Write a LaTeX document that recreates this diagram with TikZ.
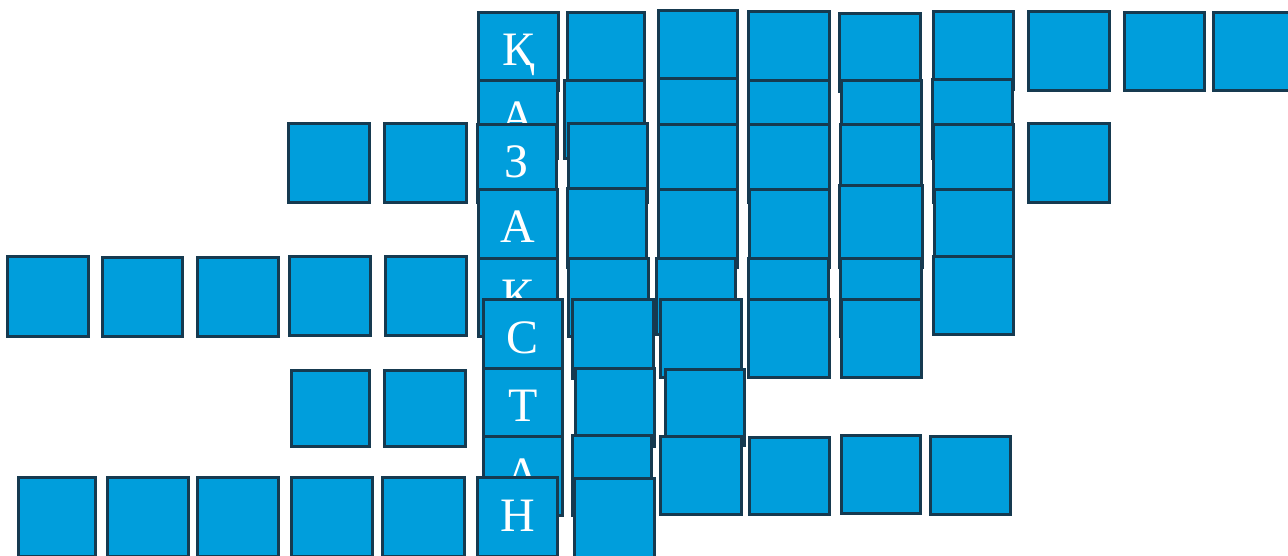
\documentclass[tikz,border=0pt]{standalone}
\usepackage{fontspec}
\setmainfont{Liberation Serif}
\definecolor{fillcol}{RGB}{0,158,220}
\definecolor{bordercol}{RGB}{22,58,80}
\tikzset{
  cellbox/.style={draw=bordercol, fill=fillcol, line width=2.6pt, inner sep=0pt,
    rectangle, text=white, font=\fontsize{48}{48}\selectfont,
    text height=28pt, text depth=0pt}
}
\newcommand{\sqcell}[6]{\node[cellbox, minimum width={(#4-#2-2.6)*1pt}, minimum height={(#5-#3-2.6)*1pt}] (#1) at ({(#2+#4)/2},{(#3+#5)/2}) {#6};}
\begin{document}
\begin{tikzpicture}[x=1pt,y=-1pt]
\useasboundingbox (0,0) rectangle (1288,555);
% row 1
\sqcell{r1c1}{477}{11}{560}{92}{Қ}
\sqcell{r1c2}{566}{11}{646}{92}{}
\sqcell{r1c3}{657}{9}{739}{91}{}
\sqcell{r1c4}{747}{10}{831}{91}{}
\sqcell{r1c5}{838}{12}{922}{93}{}
\sqcell{r1c6}{932}{10}{1015}{91}{}
\sqcell{r1c7}{1027}{10}{1111}{92}{}
\sqcell{r1c8}{1123}{11}{1206}{92}{}
\sqcell{r1c9}{1212}{11}{1294}{92}{}
% row 2
\sqcell{r2c1}{477}{79}{559}{160}{А}
\sqcell{r2c2}{563}{79}{646}{160}{}
\sqcell{r2c3}{657}{77}{739}{159}{}
\sqcell{r2c4}{747}{79}{831}{160}{}
\sqcell{r2c5}{840}{79}{923}{161}{}
\sqcell{r2c6}{931}{78}{1014}{160}{}
% row 3
\sqcell{r3a}{287}{122}{371}{204}{}
\sqcell{r3b}{383}{122}{468}{204}{}
\sqcell{r3c1}{476}{123}{558}{204}{З}
\sqcell{r3c2}{567}{122}{649}{204}{}
\sqcell{r3c3}{657}{123}{739}{204}{}
\sqcell{r3c4}{747}{123}{831}{204}{}
\sqcell{r3c5}{839}{123}{923}{204}{}
\sqcell{r3c6}{932}{123}{1015}{204}{}
\sqcell{r3c7}{1027}{122}{1111}{204}{}
% row 4
\sqcell{r4c1}{477}{188}{559}{269}{А}
\sqcell{r4c2}{566}{187}{648}{269}{}
\sqcell{r4c3}{657}{188}{739}{269}{}
\sqcell{r4c4}{748}{188}{831}{269}{}
\sqcell{r4c5}{838}{184}{924}{269}{}
\sqcell{r4c6}{933}{188}{1015}{269}{}
% row 5
\sqcell{r5a}{6}{255}{90}{338}{}
\sqcell{r5b}{101}{256}{184}{338}{}
\sqcell{r5c}{196}{256}{280}{338}{}
\sqcell{r5d}{288}{255}{372}{337}{}
\sqcell{r5e}{384}{255}{468}{337}{}
\sqcell{r5c1}{477}{257}{559}{338}{Қ}
\sqcell{r5c2}{567}{257}{650}{338}{}
\sqcell{r5c3}{655}{257}{737}{336}{}
\sqcell{r5c4}{747}{257}{830}{338}{}
\sqcell{r5c5}{839}{257}{923}{338}{}
\sqcell{r5c6}{932}{255}{1015}{336}{}
% row 6
\sqcell{r6c1}{482}{298}{564}{380}{С}
\sqcell{r6c2}{571}{298}{655}{380}{}
\sqcell{r6c3}{659}{298}{743}{379}{}
\sqcell{r6c4}{747}{298}{831}{379}{}
\sqcell{r6c5}{840}{298}{923}{379}{}
% row 7
\sqcell{r7a}{290}{369}{371}{448}{}
\sqcell{r7b}{383}{369}{467}{448}{}
\sqcell{r7c1}{482}{367}{564}{448}{Т}
\sqcell{r7c2}{574}{367}{656}{448}{}
\sqcell{r7c3}{664}{368}{746}{447}{}
% row 8
\sqcell{r8c1}{482}{435}{564}{517}{А}
\sqcell{r8c2}{571}{434}{653}{517}{}
\sqcell{r8c3}{659}{435}{743}{516}{}
\sqcell{r8c4}{748}{436}{831}{516}{}
\sqcell{r8c5}{840}{434}{922}{515}{}
\sqcell{r8c6}{929}{435}{1012}{516}{}
% row 9
\sqcell{r9a}{17}{476}{97}{558}{}
\sqcell{r9b}{106}{476}{190}{558}{}
\sqcell{r9c}{196}{476}{280}{558}{}
\sqcell{r9d}{290}{476}{374}{558}{}
\sqcell{r9e}{381}{476}{466}{558}{}
\sqcell{r9c1}{476}{476}{559}{558}{Н}
\sqcell{r9c2}{573}{477}{656}{559}{}
\end{tikzpicture}
\end{document}
